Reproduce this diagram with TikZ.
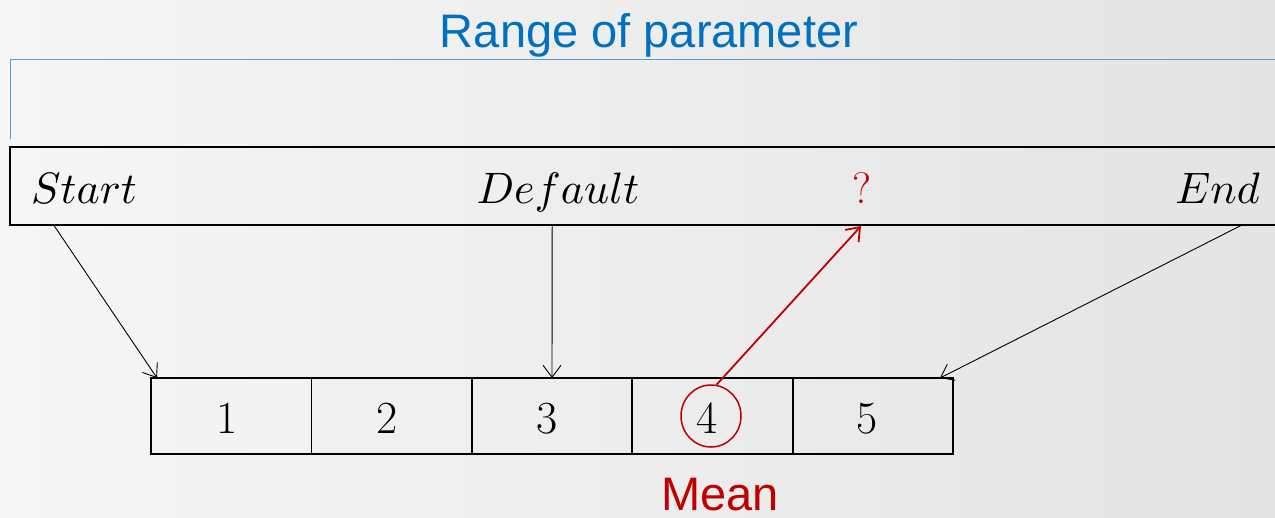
\documentclass[tikz,border=0pt]{standalone}
\usepackage{fontspec}
\newfontfamily\arialf{Liberation Sans}
\usetikzlibrary{arrows.meta,shapes.geometric}
\definecolor{titleblue}{RGB}{0,112,192}
\definecolor{lineblue}{RGB}{91,155,213}
\definecolor{darkred}{RGB}{192,0,0}
\definecolor{bgleft}{RGB}{246,246,246}
\definecolor{bgright}{RGB}{228,228,228}
\newcommand{\bigmath}[1]{\scalebox{4.4}{\fontsize{10}{12}\selectfont$#1$}}
\begin{document}
\begin{tikzpicture}[x=1pt,y=-1pt,
  cell/.style={draw, line width=1.8pt, minimum width=160.4pt, minimum height=76pt, inner sep=0pt, outer sep=0pt},
  mtext/.style={font=\fontsize{44}{50}\selectfont, anchor=base, inner sep=0pt},
  digit/.style={font=\fontsize{46}{50}\selectfont, anchor=base, inner sep=0pt},
  sanslabel/.style={font=\arialf\fontsize{47}{52}\selectfont, anchor=base, inner sep=0pt},
  conn/.style={line width=0.9pt, -{Straight Barb[length=12pt,width=18pt]}},
  redconn/.style={draw=darkred, line width=1.8pt, -{Straight Barb[length=12pt,width=18pt]}},
]
\useasboundingbox (0,0) rectangle (1275,517);
\shade[left color=bgleft, right color=bgright] (0,0) rectangle (1275,517);
\clip (0,0) rectangle (1275,517);

% title
\node[sanslabel, text=titleblue] (title) at (649,47) {Range of parameter};
\draw[lineblue, line width=1pt] (10,139) -- (10,59) -- (1290,59);

% range box
\node[draw, line width=2.2pt, minimum width=1290pt, minimum height=78pt, anchor=north west, inner sep=0pt] (range) at (9,146) {};
\node[mtext, anchor=base west] (start) at (31,203) {\bigmath{Start}};
\node[mtext] (default) at (558,203) {\bigmath{Default}};
\node[mtext, text=darkred] (q) at (862,203) {?};
\node[mtext, anchor=base east] (end) at (1260,203) {\bigmath{End}};

\coordinate (sA) at (53,224);
\coordinate (sB) at (552.2,224);
\coordinate (sD) at (1242,225);
\coordinate (qA) at (861,226);

% cells
\foreach \i in {1,...,5} {
  \node[cell] (c\i) at ({231.2+160.4*(\i-1)},416) {};
}
\node[digit] (d1) at (227,433) {1};
\node[digit] (d2) at (387,433) {2};
\node[digit] (d3) at (547,433) {3};
\node[digit] (d4) at (707,433) {4};
\node[digit] (d5) at (867,433) {5};

\node[draw=darkred, line width=1.5pt, ellipse, minimum width=60pt, minimum height=62pt, inner sep=0pt] (circ) at (711,416) {};
\node[sanslabel, text=darkred] (mean) at (720,510) {Mean};

% connectors
\draw[conn] (sA) -- ([xshift=6pt]c1.north west);
\draw[conn] (sB) -- (c3.north);
\draw[conn] (sD) -- ([xshift=-13pt]c5.north east);
\draw[redconn] (circ.80) -- (qA);
\end{tikzpicture}
\end{document}
